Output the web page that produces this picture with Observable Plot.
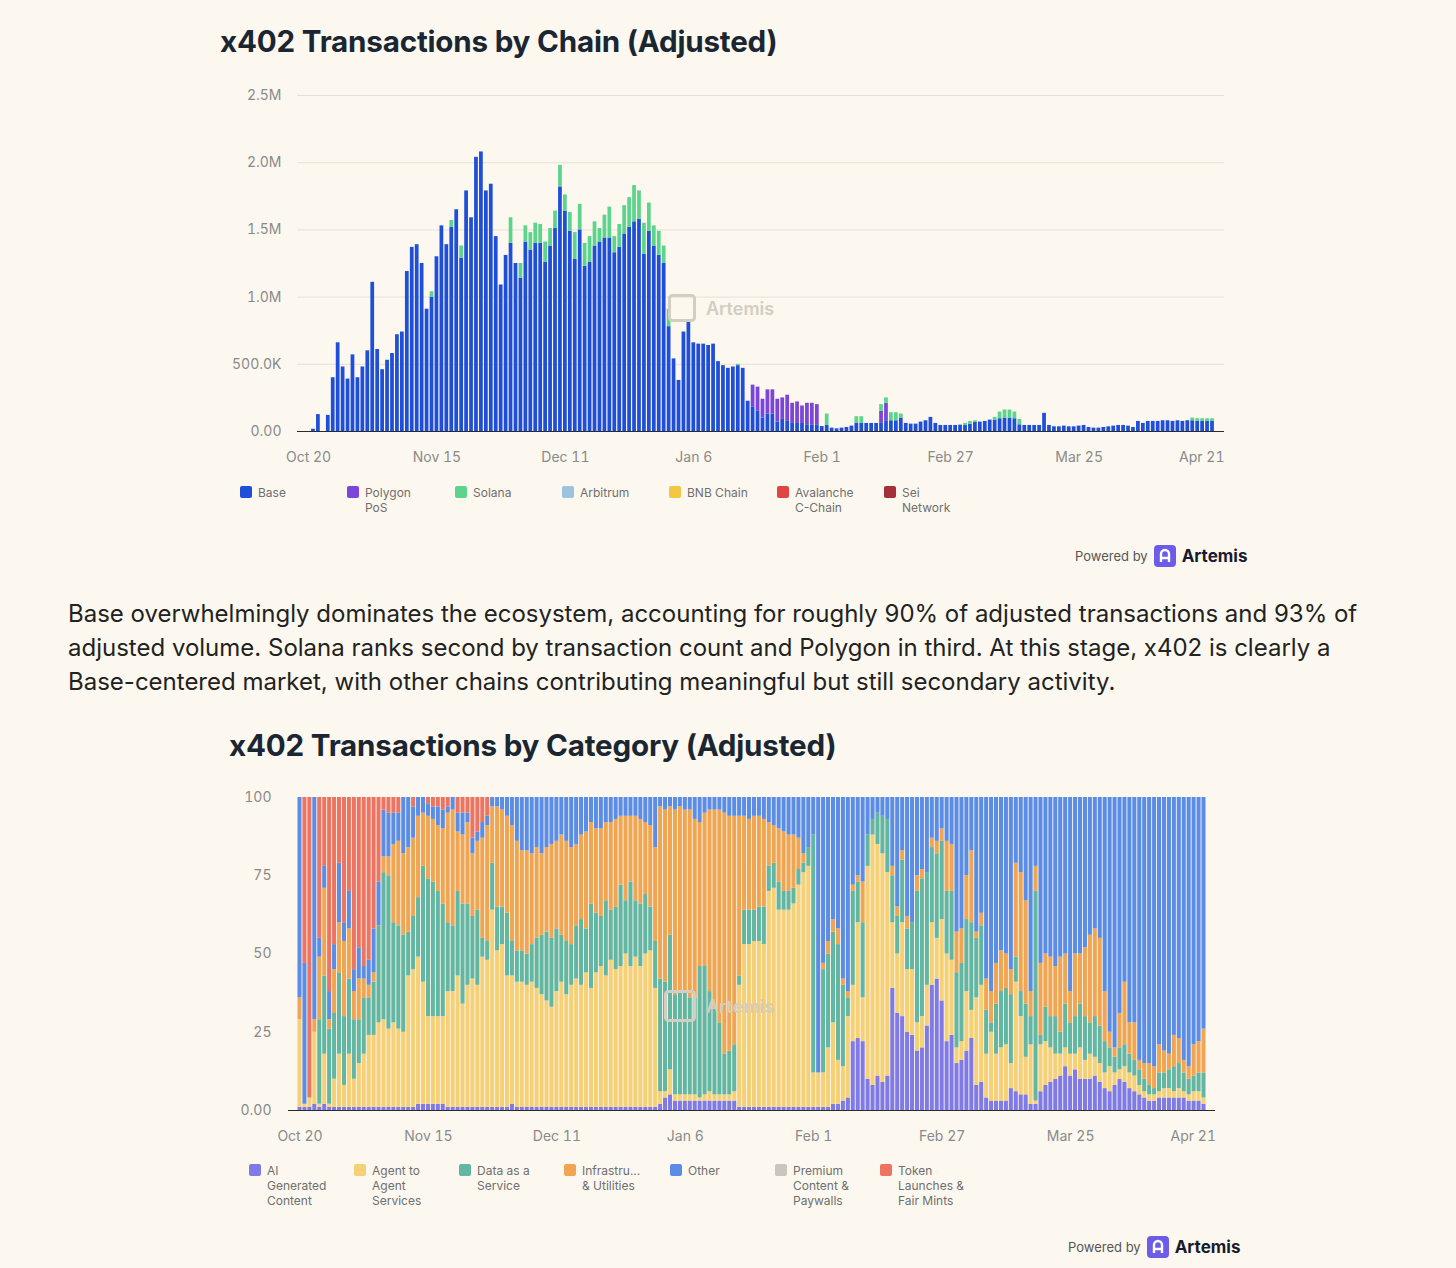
<!DOCTYPE html>
<html><head><meta charset="utf-8">
<script src="https://cdn.jsdelivr.net/npm/d3@7"></script>
<script src="https://cdn.jsdelivr.net/npm/@observablehq/plot@0.6"></script>
<style>
html,body{margin:0;padding:0;background:#fcf8ef;}
body{width:1456px;height:1268px;position:relative;overflow:hidden;font-family:Inter,"Noto Sans",sans-serif;}
.title{position:absolute;font-weight:700;color:#1b2633;font-size:29.6px;line-height:34px;white-space:nowrap;letter-spacing:-0.2px;}
.chart{position:absolute;left:0;}
.legend{position:absolute;left:0;top:0;font-size:12px;color:#6f6f6f;line-height:15px;}
.legend .item{position:absolute;display:flex;white-space:nowrap;}
.legend .sw{width:12px;height:12px;border-radius:2px;margin-right:6px;margin-top:1px;flex:none;}
.powered{position:absolute;display:flex;align-items:center;white-space:nowrap;height:22px;}
.powered .pb{font-size:13px;color:#555;}
.powered .nm{font-size:17px;font-weight:700;color:#1a1a2e;margin-left:6px;}
.powered svg{margin-left:6px;}
.para{position:absolute;left:68px;top:597px;font-size:24px;line-height:34px;color:#222;white-space:nowrap;}
.wm{position:absolute;display:flex;align-items:center;color:#d3cdc2;font-size:18px;font-weight:600;}
.wm svg{margin-right:10px;}
</style></head>
<body>
<div class="title" style="left:220px;top:24px;">x402 Transactions by Chain (Adjusted)</div>
<div id="c1" class="chart" style="top:80px;"></div>
<div id="leg1" class="legend"></div>
<div class="wm" style="left:668px;top:294px;"><svg width="28" height="28"><rect x="1.5" y="1.5" width="25" height="25" rx="3" fill="none" stroke="#d3cdc2" stroke-width="3"/></svg>Artemis</div>
<div class="powered" style="left:1075px;top:545px;"><span class="pb">Powered by</span><svg width="22" height="22" viewBox="0 0 22 22"><rect width="22" height="22" rx="4" fill="#6c5ce7"/><path d="M7 17V9a4 4 0 0 1 8 0v8M7 13h8" stroke="#fff" stroke-width="2.4" fill="none"/></svg><span class="nm">Artemis</span></div>
<div class="para">Base overwhelmingly dominates the ecosystem, accounting for roughly 90% of adjusted transactions and 93% of<br>adjusted volume. Solana ranks second by transaction count and Polygon in third. At this stage, x402 is clearly a<br>Base-centered market, with other chains contributing meaningful but still secondary activity.</div>
<div class="title" style="left:229px;top:728px;">x402 Transactions by Category (Adjusted)</div>
<div id="c2" class="chart" style="top:780px;"></div>
<div id="leg2" class="legend"></div>
<div class="wm" style="left:664px;top:990px;"><svg width="32" height="32"><rect x="1.5" y="1.5" width="29" height="29" rx="3" fill="none" stroke="#d3cdc2" stroke-width="3"/></svg>Artemis</div>
<div class="powered" style="left:1068px;top:1236px;"><span class="pb">Powered by</span><svg width="22" height="22" viewBox="0 0 22 22"><rect width="22" height="22" rx="4" fill="#6c5ce7"/><path d="M7 17V9a4 4 0 0 1 8 0v8M7 13h8" stroke="#fff" stroke-width="2.4" fill="none"/></svg><span class="nm">Artemis</span></div>
<script>
// ---------- shared dates ----------
const startDay = "2025-10-20";          // first day (index 0)
const tickLabels = ["2025-10-20","2025-11-15","2025-12-11","2026-01-06","2026-02-01","2026-02-27","2026-03-25"];
const lastTickLabel = ["2026-04-21"];

// ---------- chart 1: transactions by chain (millions) ----------
const chainNames = ["Base","Polygon PoS","Solana","Arbitrum","BNB Chain","Avalanche C-Chain","Sei Network"];
const chainLegend = ["Base","Polygon<br>PoS","Solana","Arbitrum","BNB Chain","Avalanche<br>C-Chain","Sei<br>Network"];
const chainColors = ["#1f4fd8","#7a45d8","#5cd48c","#9cc3e0","#f2c744","#e04545","#a3303a"];
const base = [0,0.017,0.126,0,0.12,0.40,0.66,0.48,0.39,0.57,
0.40,0.48,0.60,1.11,0.61,0.46,0.53,0.58,0.72,0.74,
1.19,1.37,1.39,1.25,0.91,1.00,1.30,1.53,1.39,1.52,
1.65,1.29,1.79,1.59,2.04,2.08,1.79,1.84,1.45,1.09,
1.31,1.40,1.25,1.14,1.41,1.35,1.40,1.40,1.26,1.38,
1.51,1.82,1.64,1.49,1.28,1.50,1.23,1.26,1.38,1.41,
1.44,1.44,1.33,1.37,1.47,1.52,1.56,1.58,1.32,1.49,
1.38,1.31,1.25,0.78,0.54,0.38,0.74,0.82,0.66,0.65,
0.65,0.64,0.65,0.52,0.49,0.47,0.48,0.49,0.47,0.225,
0.18,0.15,0.10,0.13,0.13,0.07,0.09,0.08,0.06,0.06,
0.06,0.05,0.05,0.05,0.037,0.045,0.025,0.02,0.025,0.03,
0.04,0.06,0.06,0.06,0.06,0.06,0.06,0.08,0.08,0.08,
0.10,0.06,0.055,0.055,0.07,0.08,0.105,0.06,0.045,0.045,
0.045,0.045,0.045,0.045,0.055,0.07,0.07,0.075,0.085,0.085,
0.095,0.10,0.10,0.095,0.05,0.045,0.045,0.045,0.045,0.135,
0.045,0.035,0.035,0.04,0.035,0.035,0.04,0.045,0.03,0.025,
0.025,0.03,0.035,0.04,0.045,0.045,0.04,0.03,0.075,0.06,
0.075,0.075,0.075,0.08,0.08,0.075,0.08,0.075,0.08,0.08,
0.075,0.075,0.075,0.075];
const polygon = [0,0,0,0,0,0,0,0,0,0, 0,0,0,0,0,0,0,0,0,0, 0,0,0,0,0,0,0,0,0,0, 0,0,0,0,0,0,0,0,0,0,
0,0,0,0,0,0,0,0,0,0, 0,0,0,0,0,0,0,0,0,0, 0,0,0,0,0,0,0,0,0,0, 0,0,0,0,0,0,0,0,0,0, 0,0,0,0,0,0,0,0,0,0,
0.165,0.18,0.14,0.18,0.18,0.17,0.16,0.19,0.15,0.16,
0.13,0.16,0.16,0.15,0,0,0,0,0,0,
0,0,0,0,0,0,0.09,0.13,0,0,
0,0,0,0,0,0,0,0,0,0, 0,0,0,0,0,0,0,0,0,0, 0,0,0,0,0,0,0,0,0,0, 0,0,0,0,0,0,0,0,0,0,
0,0,0,0,0,0,0,0,0,0, 0,0,0,0,0,0,0,0,0,0, 0,0,0,0];
const solana = [0,0,0,0,0,0,0,0,0,0, 0,0,0,0,0,0,0,0,0,0,
0,0,0,0,0,0.04,0,0,0,0.05,
0,0.09,0,0,0,0,0,0,0,0,
0,0.19,0,0.11,0.12,0.13,0.15,0.14,0.15,0.13,
0.13,0.16,0.12,0.14,0.20,0.19,0.17,0.19,0.18,0.10,
0.17,0.23,0.12,0.17,0.21,0.22,0.27,0.21,0.23,0.21,
0.15,0.18,0.13,0.13,0,0,0,0,0,0,
0,0,0,0,0,0,0,0.01,0,0,
0,0,0,0,0,0,0,0,0,0,
0,0,0,0,0,0.085,0,0,0,0,
0,0.05,0.05,0,0,0,0.05,0.04,0.06,0.06,
0.03,0,0,0,0,0,0,0,0,0,
0,0,0.005,0.015,0.02,0.01,0,0,0,0.02,
0.05,0.06,0.06,0.05,0.04,0,0,0,0,0,
0,0,0,0,0,0,0,0,0,0, 0,0,0,0,0,0,0,0,0,0,
0,0,0,0,0,0,0,0,0,0.02,
0.02,0.02,0.02,0.02];
const chainTicks = [0,0.5,1,1.5,2,2.5];
const chainTickText = ["0.00","500.0K","1.0M","1.5M","2.0M","2.5M"];

// ---------- chart 2: share by category (%) ----------
const catNames = ["AI Generated Content","Agent to Agent Services","Data as a Service","Infrastructure & Utilities","Other","Premium Content & Paywalls","Token Launches & Fair Mints"];
const catLegend = ["AI<br>Generated<br>Content","Agent to<br>Agent<br>Services","Data as a<br>Service","Infrastru...<br>&amp; Utilities","Other","Premium<br>Content &amp;<br>Paywalls","Token<br>Launches &amp;<br>Fair Mints"];
const catColors = ["#7f7ae6","#f5d077","#62b6a2","#f0a552","#5b8de6","#cbc6bd","#ec7462"];
const aiContent = [1,1,1,2,1,2,1,1,1,1, 1,1,1,1,1,1,1,1,1,1, 1,1,1,1,2,2,2,2,2,2, 1,1,1,1,1,1,1,1,1,1,
1,1,1,2,1,1,1,1,1,1, 1,1,1,1,1,1,1,1,1,1, 1,1,1,1,1,1,1,1,1,1, 1,1,1,2,4,5,3,3,3,3,
3,3,3,3,3,3,3,3,3,1, 1,1,1,1,1,1,1,1,1,1, 1,1,1,1,1,1,1,1,2,2, 3,4,22,23,22,10,8,11,9,11,
39,31,30,25,24,19,20,27,40,42, 35,22,24,15,16,19,23,8,9,4, 3,3,3,3,7,6,5,5,2,2,
6,8,9,10,11,14,11,13,10,10, 10,11,9,7,6,8,10,9,7,6, 5,4,3,3,4,4,4,4,4,4, 3,3,3,2];
const agentServices = [28,1,3,23,1,16,1,9,17,7, 17,9,14,17,23,23,27,28,25,27, 25,24,42,44,47,39,28,28,28,28,
37,37,42,33,39,41,39,48,47,63, 50,52,42,41,40,40,39,40,38,36, 34,32,37,40,36,39,41,39,43,38,
43,45,42,47,44,45,49,45,48,45, 49,50,38,4,2,8,2,2,2,2, 2,1,2,3,2,2,2,2,3,39,
52,52,53,53,52,69,70,63,63,63, 65,71,75,77,11,11,11,19,26,14, 11,26,18,37,14,68,80,74,73,65,
21,19,30,20,21,9,10,13,20,13, 26,28,24,5,6,19,9,28,31,14, 22,15,17,18,8,35,25,12,19,1,
15,14,11,8,7,6,7,5,10,6, 8,6,6,5,8,4,3,5,5,5, 3,2,2,2,2,3,3,2,3,2, 2,3,3,2];
const dataService = [0,0,0,0,27,25,24,21,26,22, 24,19,14,18,12,17,31,47,49,32, 33,31,14,17,19,37,44,43,40,36,
22,21,27,32,26,20,24,6,6,15, 14,12,20,11,10,10,10,12,16,19, 22,22,20,15,17,13,17,21,14,27,
19,16,24,16,20,26,17,27,18,20, 19,14,15,36,35,43,32,33,33,31, 31,42,41,32,28,23,13,14,15,3,
11,11,10,11,12,8,8,9,6,6, 5,5,3,6,76,0,33,30,29,37, 26,6,30,13,24,10,5,10,12,17,
15,12,20,13,15,42,44,36,24,27, 25,20,22,24,25,23,28,19,19,14, 3,16,18,18,22,8,8,17,9,67,
3,11,10,12,7,14,10,12,14,14, 10,13,12,10,6,5,7,7,6,5, 5,4,3,2,6,5,6,8,8,6, 5,5,6,8];
const infraUtilities = [7,0,0,4,20,28,3,14,16,24, 16,9,13,6,4,3,0,5,6,25, 27,26,27,25,26,17,20,20,21,24,
35,37,19,22,26,20,22,32,37,18, 32,31,31,37,35,32,33,29,29,26, 27,30,28,32,32,31,26,27,31,26,
27,28,25,28,28,22,27,21,27,27, 23,26,30,55,55,41,59,59,58,60, 57,46,49,58,63,68,77,75,73,51,
30,29,30,29,28,14,12,17,19,18, 17,10,3,0,0,0,2,4,4,5, 2,2,2,2,13,0,0,0,0,0,
3,3,3,4,0,5,3,0,3,4, 4,16,15,13,11,14,23,2,4,10, 10,13,13,11,8,30,38,33,8,8,
23,17,19,16,24,16,10,20,16,22, 28,28,28,16,5,3,11,20,10,12, 3,5,7,7,9,7,5,10,8,4, 4,10,10,14];
const other = [64,45,0,71,6,7,9,8,19,6, 12,7,10,4,8,14,14,15,14,10, 9,18,16,10,6,5,4,4,6,6,
2,4,6,7,3,5,3,5,3,3, 3,4,6,9,14,17,17,18,16,18, 16,15,14,12,14,16,15,12,11,8,
10,10,8,8,7,6,6,6,6,7, 8,9,16,3,4,3,4,3,4,4, 7,8,5,4,4,4,5,6,6,6,
6,7,6,6,7,8,9,10,11,12, 12,13,18,16,12,88,53,46,39,42, 58,62,28,25,27,12,7,5,6,7,
22,35,17,38,40,25,23,24,13,14, 10,14,15,43,42,25,17,43,37,58, 62,53,49,50,55,21,24,33,62,22,
53,50,51,54,51,50,62,50,50,48, 44,42,45,62,75,80,69,59,72,72, 84,85,85,86,79,81,82,76,77,84, 86,79,78,74];
const tokenLaunches = [0,53,96,0,45,22,62,47,21,40, 30,55,48,54,52,42,27,4,5,5, 5,0,0,3,0,0,2,3,3,4,
3,0,5,5,5,13,11,8,6,0];
const catTicks = [0,0.25,0.5,0.75,1];
const catTickText = ["0.00","25","50","75","100"];

// ---------- build ----------
const DAY = 864e5;
const t0 = Date.parse(startDay);
const dayAt = i => new Date(t0 + i * DAY);
const nDays = base.length;
const ticks = tickLabels.map(s => new Date(s));
const lastTick = lastTickLabel.map(s => new Date(s));
const fmtDate = d3.utcFormat("%b %-d");

function legend(el, names, colors, positions, top) {
  const box = document.getElementById(el);
  names.forEach((n, k) => {
    const it = document.createElement("div");
    it.className = "item";
    it.style.left = positions[k] + "px";
    it.style.top = top + "px";
    it.innerHTML = `<div class="sw" style="background:${colors[k]}"></div><div>${n}</div>`;
    box.appendChild(it);
  });
}

const chainData = [["Base", base], ["Polygon PoS", polygon], ["Solana", solana]];
const rows1 = chainData.flatMap(([name, vals]) => vals.map((v, i) => ({date: dayAt(i), chain: name, value: v}))).filter(d => d.value > 0);

const plot1 = Plot.plot({
  width: 1456, height: 400,
  marginLeft: 297, marginRight: 232, marginTop: 15, marginBottom: 49,
  style: {background: "transparent", fontFamily: "Inter, sans-serif"},
  x: {type: "utc", domain: [new Date(t0 - 2.23 * DAY), new Date(t0 + (nDays - 1 + 2.43) * DAY)], label: null},
  y: {domain: [0, 2.5], label: null},
  color: {domain: chainNames, range: chainColors},
  marks: [
    Plot.gridY(chainTicks.slice(1), {stroke: "#e7e1d5", strokeOpacity: 1}),
    Plot.axisY(chainTicks, {tickSize: 0, tickPadding: 16, fontSize: 14, color: "#8a8a8a", tickFormat: (d) => chainTickText[chainTicks.indexOf(d)], label: null}),
    Plot.rectY(rows1, Plot.stackY({
      x1: d => new Date(+d.date - DAY / 2), x2: d => new Date(+d.date + DAY / 2),
      y: "value", fill: "chain", insetLeft: 0.6, insetRight: 0.6
    })),
    Plot.ruleY([0], {stroke: "#2b2b2b", strokeWidth: 1.2}),
    Plot.axisX(ticks, {tickSize: 0, tickPadding: 21, fontSize: 14, color: "#8a8a8a", tickFormat: fmtDate, label: null}),
    Plot.axisX(lastTick, {tickSize: 0, tickPadding: 21, fontSize: 14, color: "#8a8a8a", tickFormat: fmtDate, textAnchor: "end", dx: 12, label: null})
  ]
});
document.getElementById("c1").appendChild(plot1);
legend("leg1", chainLegend, chainColors, [240, 347, 455, 562, 669, 777, 884], 485);

const catData = [
  ["AI Generated Content", aiContent],
  ["Agent to Agent Services", agentServices],
  ["Data as a Service", dataService],
  ["Infrastructure & Utilities", infraUtilities],
  ["Other", other],
  ["Token Launches & Fair Mints", tokenLaunches]
];
const rows2 = catData.flatMap(([name, vals]) => vals.map((v, i) => ({date: dayAt(i), cat: name, value: v}))).filter(d => d.value > 0);

const plot2 = Plot.plot({
  width: 1456, height: 370,
  marginLeft: 288, marginRight: 241, marginTop: 17, marginBottom: 40,
  style: {background: "transparent", fontFamily: "Inter, sans-serif"},
  x: {type: "utc", domain: [new Date(t0 - 2.33 * DAY), new Date(t0 + (nDays - 1 + 2.33) * DAY)], label: null},
  y: {domain: [0, 1], label: null},
  color: {domain: catNames, range: catColors},
  marks: [
    Plot.axisY(catTicks, {tickSize: 0, tickPadding: 17, fontSize: 14, color: "#8a8a8a", tickFormat: d => catTickText[catTicks.indexOf(d)], label: null}),
    Plot.rectY(rows2, Plot.stackY({
      x1: d => new Date(+d.date - DAY / 2), x2: d => new Date(+d.date + DAY / 2),
      y: "value", fill: "cat", offset: "normalize", insetLeft: 0.45, insetRight: 0.45
    })),
    Plot.ruleY([0], {stroke: "#2b2b2b", strokeWidth: 1.2}),
    Plot.axisX(ticks, {tickSize: 0, tickPadding: 21, fontSize: 14, color: "#8a8a8a", tickFormat: fmtDate, label: null}),
    Plot.axisX(lastTick, {tickSize: 0, tickPadding: 21, fontSize: 14, color: "#8a8a8a", tickFormat: fmtDate, textAnchor: "end", dx: 12, label: null})
  ]
});
document.getElementById("c2").appendChild(plot2);
legend("leg2", catLegend, catColors, [249, 354, 459, 564, 670, 775, 880], 1163);
</script>
</body></html>
